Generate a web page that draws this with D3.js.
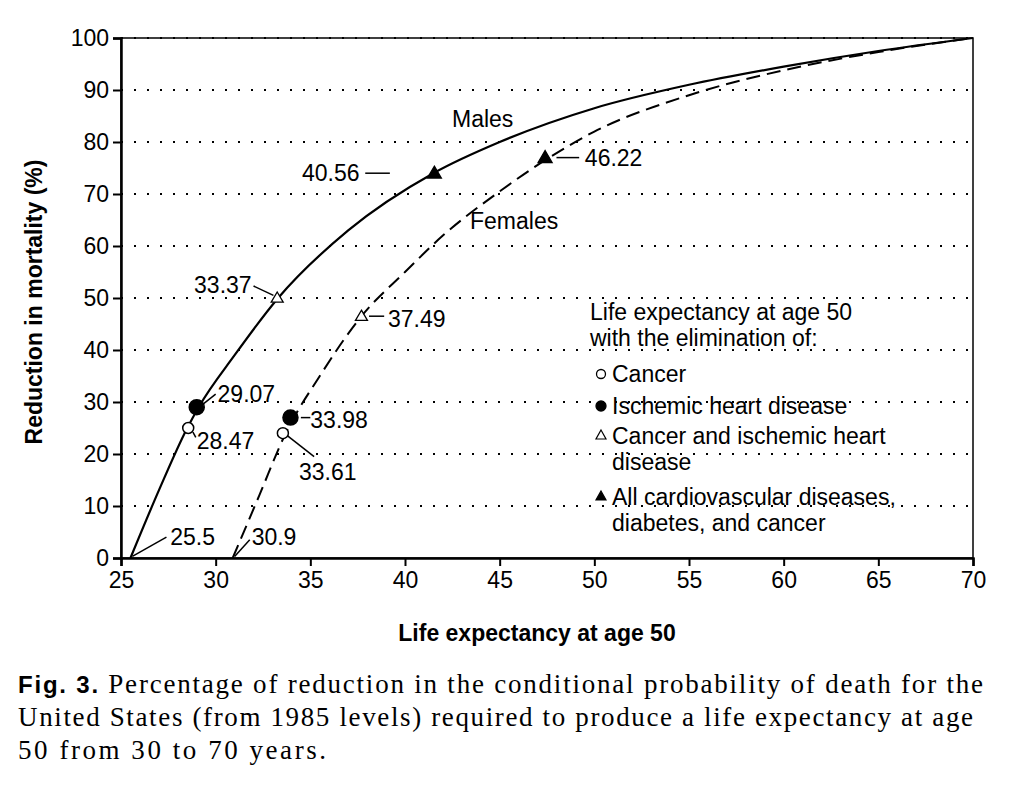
<!DOCTYPE html>
<html lang="en">
<head>
<meta charset="utf-8">
<script src="https://cdn.jsdelivr.net/npm/d3@7"></script>
<style>
body { margin: 0; background: #fff; }
.ax { font-family: Arial, "Liberation Sans", sans-serif; font-size: 23px; }
.cap { font-family: "Liberation Serif", serif; font-size: 27px; }
</style>
</head>
<body>
<svg id="c" width="1024" height="794"></svg>
<script>
var males = [[25.5,0],[27,13],[28.5,25],[29.1,29],[31,39],[33.3,50],[37,63],[41.5,74],[45,80],[50,86.5],[55,91],[60,94.5],[65,97.5],[70,100]];
var females = [[30.9,0],[32.3,12],[33.7,24],[35.5,35],[37.7,46.5],[40,55],[42,62],[45,70.5],[47.4,76.5],[50,82],[55,89],[60,93.8],[65,97.3],[70,100]];
// markers: [x, y, type]
var marks = [
  [28.55,25,'oc'],[29.0,29,'fc'],[33.25,50,'ot'],[41.55,74,'ft'],
  [33.55,24,'oc'],[33.95,27,'fc'],[37.7,46.5,'ot'],[47.4,77,'ft']
];
// labels: [text, tx, ty, anchor, leader x1,y1,x2,y2] in data units
var labels = [
  ['25.5',27.6,4,'start',25.6,0.3,27.4,4],
  ['30.9',31.9,4,'start',31,0.3,31.8,3.5],
  ['28.47',29.0,22.5,'start',28.8,24.2,28.95,23.2],
  ['29.07',30.1,31.5,'start',29.3,29.5,30.0,31.5],
  ['33.37',31.9,52.5,'end',32,52.3,33.05,50.5],
  ['33.61',34.4,16.5,'start',33.8,23.5,35.2,19.5],
  ['33.98',35.0,26.5,'start',34.5,27,35.0,27],
  ['37.49',39.1,46,'start',38.1,46.5,38.9,46.5],
  ['40.56',37.6,74,'end',37.9,74,39.2,74],
  ['46.22',49.5,77,'start',48.0,77,49.2,77]
];

var svg = d3.select('#c');
var x = d3.scaleLinear().domain([25,70]).range([121,973]);
var y = d3.scaleLinear().domain([0,100]).range([558,38]);

// dotted grid
var g = svg.append('g');
d3.range(10,101,10).forEach(function(v){
  g.append('line').attr('x1',x(25)).attr('x2',x(70)).attr('y1',y(v)).attr('y2',y(v))
    .attr('stroke','#000').attr('stroke-width',2).attr('stroke-dasharray','2,11');
});
svg.append('rect').attr('x',x(25)).attr('y',y(100)).attr('width',x(70)-x(25)).attr('height',y(0)-y(100))
  .attr('fill','none').attr('stroke','#000').attr('stroke-width',1.5);

var xa = svg.append('g').attr('transform','translate(0,'+y(0)+')')
  .call(d3.axisBottom(x).tickValues(d3.range(25,71,5)).tickSize(8).tickPadding(6));
var ya = svg.append('g').attr('transform','translate('+x(25)+',0)')
  .call(d3.axisLeft(y).tickValues(d3.range(0,101,10)).tickSize(8).tickPadding(4));
[xa,ya].forEach(function(a){
  a.attr('font-family','Arial, "Liberation Sans", sans-serif').attr('font-size',23);
  a.selectAll('path').attr('stroke-width',2.5);
  a.selectAll('line').attr('stroke-width',2);
  a.selectAll('text').attr('fill','#000');
});

svg.append('text').attr('class','ax').attr('x',(x(25)+x(70))/2 - 10).attr('y',641).attr('text-anchor','middle')
  .attr('font-weight','bold').text('Life expectancy at age 50');
svg.append('text').attr('class','ax').attr('transform','translate(42,'+(y(50)+4)+') rotate(-90)')
  .attr('text-anchor','middle').attr('font-weight','bold').text('Reduction in mortality (%)');

var line = d3.line().x(function(d){return x(d[0]);}).y(function(d){return y(d[1]);}).curve(d3.curveMonotoneX);
svg.append('path').attr('d',line(males)).attr('fill','none').attr('stroke','#000').attr('stroke-width',2.2);
svg.append('path').attr('d',line(females)).attr('fill','none').attr('stroke','#000').attr('stroke-width',2)
  .attr('stroke-dasharray','14,7');

svg.append('text').attr('class','ax').attr('x',452).attr('y',127).text('Males');
svg.append('text').attr('class','ax').attr('x',470).attr('y',229).text('Females');

function marker(px,py,t){
  if (t[1]=='c') {
    svg.append('circle').attr('cx',px).attr('cy',py).attr('r',t[0]=='f' ? 7.5 : 5.5)
      .attr('fill',t[0]=='f'?'#000':'#fff').attr('stroke','#000').attr('stroke-width',1.5);
  } else {
    var s = t[0]=='f' ? 7 : 6;
    svg.append('path').attr('d','M'+px+','+(py-s)+'L'+(px+s)+','+(py+s*0.7)+'L'+(px-s)+','+(py+s*0.7)+'Z')
      .attr('fill',t[0]=='f'?'#000':'#fff').attr('stroke','#000').attr('stroke-width',1.3);
  }
}
labels.forEach(function(l){
  svg.append('line').attr('x1',x(l[4])).attr('y1',y(l[5])).attr('x2',x(l[6])).attr('y2',y(l[7]))
    .attr('stroke','#000').attr('stroke-width',1.5);
  svg.append('text').attr('class','ax').attr('x',x(l[1])).attr('y',y(l[2])+8).attr('text-anchor',l[3]).text(l[0]);
});
marks.forEach(function(m){ marker(x(m[0]),y(m[1]),m[2]); });

// legend
var lg = [
  ['Life expectancy at age 50',null,320],
  ['with the elimination of:',null,346],
  ['Cancer','oc',382],
  [' Ischemic heart disease','fc',414],
  ['Cancer and ischemic heart','ot',444],
  ['disease',null,470],
  ['All cardiovascular diseases,','ft',505],
  ['diabetes, and cancer',null,531]
];
lg.forEach(function(d,i){
  var tx = i<2 ? 590 : 612;
  svg.append('text').attr('class','ax').attr('x',tx).attr('y',d[2]).text(d[0]);
  if (d[1]) {
    var t = d[1];
    if (t[1]=='c') svg.append('circle').attr('cx',601).attr('cy',d[2]-8).attr('r',t[0]=='f'?5:4.5)
      .attr('fill',t[0]=='f'?'#000':'#fff').attr('stroke','#000').attr('stroke-width',1.3);
    else svg.append('path').attr('d','M601,'+(d[2]-14)+'L606,'+(d[2]-5)+'L596,'+(d[2]-5)+'Z')
      .attr('fill',t[0]=='f'?'#000':'#fff').attr('stroke','#000').attr('stroke-width',1.2);
  }
});

var cap = svg.append('text').attr('class','cap').attr('x',18).attr('y',693).attr('textLength',965);
cap.append('tspan').attr('font-family','Arial, sans-serif').attr('font-weight','bold').attr('font-size',24).text('Fig. 3. ');
cap.append('tspan').text('Percentage of reduction in the conditional probability of death for the');
svg.append('text').attr('class','cap').attr('x',18).attr('y',726).attr('textLength',955).text('United States (from 1985 levels) required to produce a life expectancy at age');
svg.append('text').attr('class','cap').attr('x',18).attr('y',759).attr('textLength',308).text('50 from 30 to 70 years.');
</script>
</body>
</html>
